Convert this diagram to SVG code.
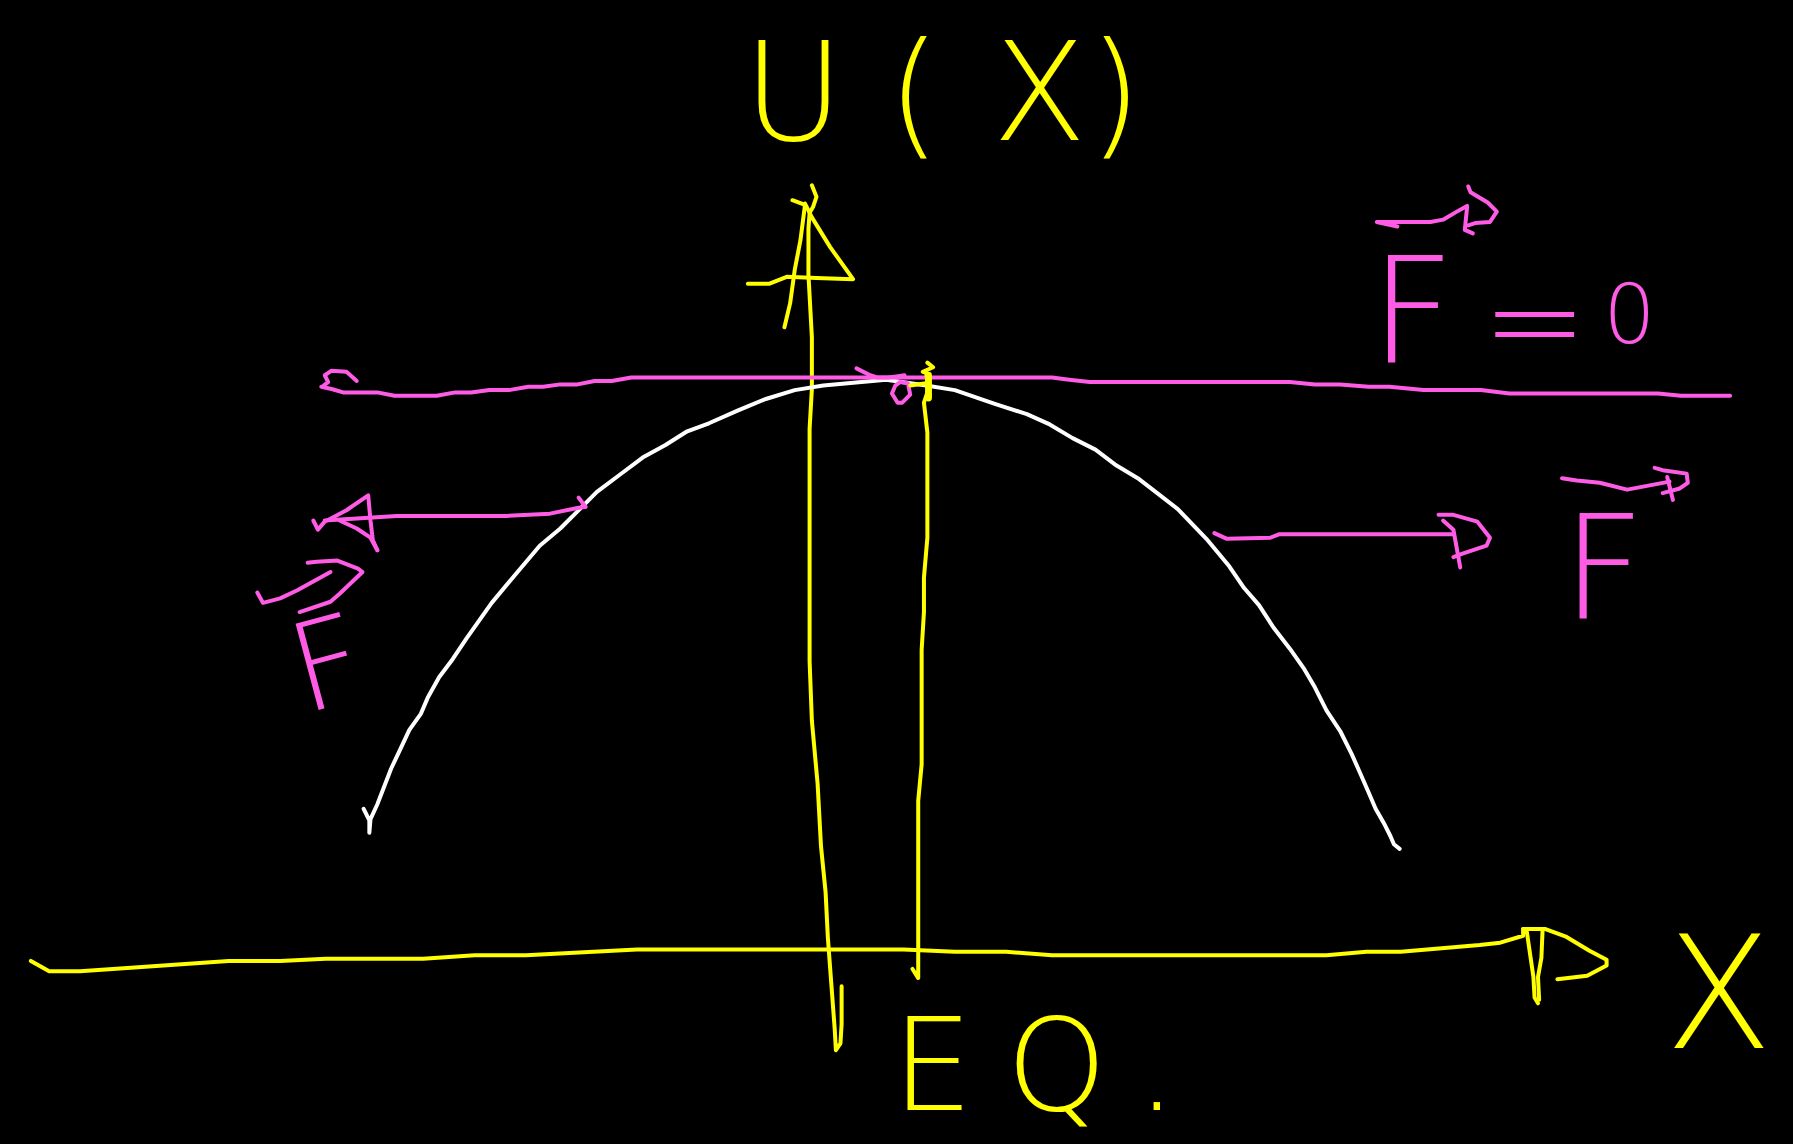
<svg xmlns="http://www.w3.org/2000/svg" width="1793" height="1144" viewBox="0 0 1793 1144">
<style>
.y{fill:none;stroke:#ffff00;stroke-width:3.5;stroke-linecap:round;stroke-linejoin:round}
.p{fill:none;stroke:#ff5ce6;stroke-width:3.5;stroke-linecap:round;stroke-linejoin:round}
.w{fill:none;stroke:#ffffff;stroke-width:3.5;stroke-linecap:round;stroke-linejoin:round}
.ty{fill:#ffff00;font-family:"DejaVu Sans","Liberation Sans",sans-serif;font-weight:200}
.tp{fill:#ff5ce6;font-family:"DejaVu Sans","Liberation Sans",sans-serif;font-weight:200}
</style>
<rect width="1793" height="1144" fill="#000"/>
<g transform="scale(1.14349,1.144)">
  <g id="axes">
    <polyline id="x-axis" class="y" points="27,840 43,849 70,849 200,840 245,840 285,838 370,838 415,835 460,835 557,830 790,830 835,832 880,832 920,835 1160,835 1195,832 1225,832 1294,826 1312,824 1332,818 1332,812"/>
    <polyline class="y" points="1332,812 1351,812 1370,819 1390,831 1405,839 1405,844 1388,853 1362,856"/>
    <polyline class="y" points="1335,813 1341,854 1342,872 1345,877"/>
    <polyline class="y" points="1349,813 1348,837 1345,854 1346,874"/>
    <polyline id="y-axis" class="y" points="710,162 714,172 711,181 708,186 707,200 707,240 710,295 710,340 708,375 708,578 710,630 715,685 718,740 722,780 724,820 727,860 730,900 731,918 735,912 736,895 736,862"/>
    <polyline class="y" points="693,175 704,179 700,210 695,236 691,265 686,286"/>
    <polyline class="y" points="704,178 710,190 726,216 746,244 714,243 688,242 673,248 654,248"/>
  </g>
  <g id="curve">
    <polyline class="w" points="318,707 323,717 323,728 324,716 330,703 342,672 350,655 358,638 368,624 374,610 384,592 396,576 408,558 430,527 450,503 472,477 490,462 505,447 522,430 542,415 562,400 582,389 601,377 620,370 645,359 669,349 695,341 720,337 775,332 810,337 835,341 870,353 898,362 918,371 938,383 958,393 975,406 995,418 1012,431 1030,445 1055,471 1075,495 1088,514 1101,529 1114,549 1128,567 1140,584 1150,601 1160,621 1172,639 1182,659 1190,677 1197,693 1203,707 1211,721 1216,731 1219,738 1224,742"/>
  </g>
  <g id="f-zero-line">
    <polyline class="p" points="283,337 287,334 284,328 290,324 303,325 312,333"/>
    <polyline class="p" points="281,338 290,340 300,343 330,343 345,346 382,346 398,343 412,343 428,341 445,341 462,338 475,338 490,336 505,336 520,333 535,333 552,330 920,330 935,332 953,334 1128,334 1150,336 1172,336 1197,338 1215,338 1245,341 1295,341 1320,344 1450,344 1470,346 1513,346"/>
    <polyline class="p" points="749,322 761,328 767,330 776,330 784,329 791,328"/>
    <polyline class="p" points="783,337 787,334 794,335 796,345 789,352 785,352 780,344 783,337"/>
  </g>
  <g id="eq-line">
    <polyline class="y" points="811,317 816,321 807,325 810,326 812,340 808,352 811,378 811,470 808,505 808,535 806,568 806,668 803,700 803,855 798,847"/>
    <polyline class="y" style="stroke-width:6" points="812,328 812,348"/>
    <polyline class="y" points="796,337 810,335"/>
  </g>
  <g id="connectors">
    <g id="left-force">
      <polyline class="p" points="512,443 505,444 481,449 443,451 347,451 284,455"/>
      <polyline class="p" points="506,435 512,443"/>
      <polyline class="p" points="286,455 303,446 322,433 324,455 326,472 330,481"/>
      <polyline class="p" points="297,455 312,462 324,470 330,481"/>
      <polyline class="p" points="274,455 278,463 284,456"/>
    </g>
    <g id="right-force">
      <polyline class="p" points="1062,466 1073,471 1111,470 1119,467 1271,467"/>
      <polyline class="p" points="1258,450 1271,450 1292,456 1303,470 1300,477 1279,484 1271,487"/>
      <polyline class="p" points="1262,455 1271,463 1277,496"/>
    </g>
  </g>
  <g id="label-ux">
    <text class="ty" font-size="120" y="122"><tspan x="650">U</tspan><tspan x="776">(</tspan><tspan x="868">X</tspan><tspan x="952">)</tspan></text>
  </g>
  <g id="label-f0">
    <polyline class="p" points="1222,198 1204,194 1251,194 1262,192 1274,185 1283,180"/>
    <polyline class="p" points="1284,163 1286,168 1301,177 1309,185 1303,194 1290,195 1284,197"/>
    <polyline class="p" points="1283,181 1281,201 1288,204"/>
    <text class="tp" font-size="129" x="1198" y="317">F</text>
    <text class="tp" font-size="110" x="1296" y="318">=</text>
    <text class="tp" font-size="72" x="1402" y="300">0</text>
  </g>
  <g id="label-f-right">
    <polyline class="p" points="1366,418 1379,420 1399,422 1423,428 1460,421"/>
    <polyline class="p" points="1447,409 1454,411 1475,414 1476,422 1469,427 1454,431"/>
    <polyline class="p" points="1458,417 1463,437"/>
    <text class="tp" font-size="126" x="1366" y="540">F</text>
  </g>
  <g id="label-f-left">
    <polyline class="p" points="225,518 230,527 245,523 260,516 289,500"/>
    <polyline class="p" points="269,492 277,491 295,490 313,497 317,500 297,519 289,526 262,535"/>
    <text class="tp" font-size="107" transform="translate(266,624) rotate(-15)">F</text>
  </g>
  <g id="label-eq">
    <text class="ty" font-size="112" y="970"><tspan x="780">E</tspan><tspan x="880">Q</tspan><tspan x="994">.</tspan></text>
  </g>
  <g id="label-x">
    <text class="ty" font-size="137" x="1456" y="916">X</text>
  </g>
</g>
</svg>
